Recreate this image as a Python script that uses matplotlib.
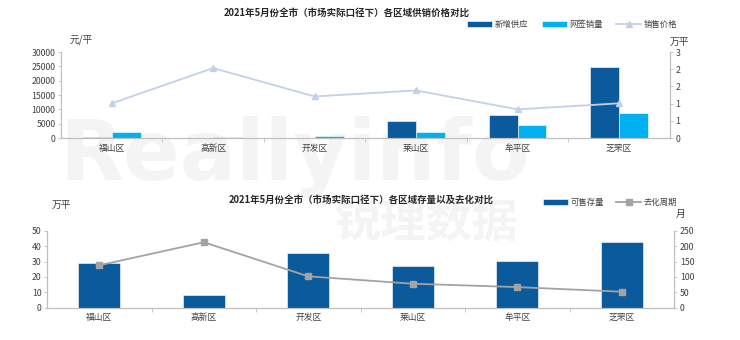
import numpy as np
import matplotlib
matplotlib.use('Agg')
import matplotlib.pyplot as plt
from matplotlib.ticker import FixedLocator, FixedFormatter

plt.rcParams['font.family'] = ['Noto Sans CJK SC', 'DejaVu Sans']

#%% data
districts = ['福山区', '高新区', '开发区', '莱山区', '牟平区', '芝罘区']
new_supply = [0.03, 0.0, 0.0, 0.60, 0.80, 2.47]     # 万平
net_sales = [0.20, 0.04, 0.085, 0.21, 0.45, 0.89]   # 万平
price = [12100, 24400, 14500, 16600, 10000, 12100]  # 元/平
stock = [28.8, 8.2, 35.3, 27.1, 30.5, 42.5]         # 万平
cycle = [138, 213, 102, 78, 67, 52]                 # 月

title1 = '2021年5月份全市（市场实际口径下）各区域供销价格对比'
title2 = '2021年5月份全市（市场实际口径下）各区域存量以及去化对比'

dark = '#0B5A9B'
cyan = '#00B0F0'
pline = '#C3D1E8'
gline = '#A3A3A3'
axc = '#BFBFBF'
txt = '#404040'

fig = plt.figure(figsize=(7.4, 3.4), dpi=100)

# watermark
fig.text(0.08, 0.47, 'Reallyinfo', fontsize=60, fontweight='bold', color='#F4F4F4',
         family='DejaVu Sans', zorder=0)
fig.text(0.452, 0.305, '锐理数据', fontsize=33, fontweight='bold', color='#F4F4F4', zorder=0)

x = np.arange(len(districts))


def style_axes(ax, ax2):
    for a in (ax, ax2):
        a.set_facecolor('none')
        a.spines['top'].set_visible(False)
        for s in ('left', 'right', 'bottom'):
            a.spines[s].set_color(axc)
            a.spines[s].set_linewidth(0.8)
        a.tick_params(colors=txt, labelsize=6.3, length=2.5, width=0.6, color=axc, pad=1.5)
    ax.set_xlim(-0.5, len(districts) - 0.5)
    ax.xaxis.set_major_locator(FixedLocator(x))
    ax.xaxis.set_major_formatter(FixedFormatter(districts))
    ax.xaxis.set_minor_locator(FixedLocator(np.arange(0.5, len(districts) - 1, 1)))
    ax.tick_params(axis='x', which='major', length=0, pad=4, labelsize=6.3)
    ax.tick_params(axis='x', which='minor', length=3, width=0.6, color=axc)


#%% top chart
ax1 = fig.add_axes([0.0824, 0.594, 0.8226, 0.253])
ax1r = ax1.twinx()
ax1r.set_zorder(1)
ax1.set_zorder(2)
w = 0.285
ax1r.bar(x - w / 2, new_supply, w, color=dark, edgecolor='white', linewidth=0.4, label='新增供应')
ax1r.bar(x + w / 2, net_sales, w, color=cyan, edgecolor='white', linewidth=0.4, label='网签销量')
ax1.plot(x, price, color=pline, lw=1.3, marker='^', ms=4, label='销售价格')
ax1.set_ylim(0, 30000)
ax1.set_yticks(np.arange(0, 30001, 5000))
ax1r.set_ylim(0, 3)
ax1r.set_yticks(np.linspace(0, 3, 6))
ax1r.set_yticklabels(['%d' % round(v + 1e-9) for v in np.linspace(0, 3, 6)])
style_axes(ax1, ax1r)
fig.text(0.468, 0.962, title1, ha='center', va='center', fontsize=6.8, fontweight='bold', color='#262626')
fig.text(0.094, 0.882, '元/平', ha='left', va='center', fontsize=7, color=txt)
fig.text(0.918, 0.878, '万平', ha='center', va='center', fontsize=7, color=txt)
h1, l1 = ax1r.get_legend_handles_labels()
h2, l2 = ax1.get_legend_handles_labels()
fig.legend(h1 + h2, l1 + l2, loc='center right', bbox_to_anchor=(0.925, 0.928), ncol=3,
           frameon=False, fontsize=6, handlelength=3.0, handleheight=0.6, columnspacing=1.6,
           handletextpad=0.3, labelcolor=txt)

#%% bottom chart
ax2 = fig.add_axes([0.0635, 0.095, 0.8475, 0.226])
ax2r = ax2.twinx()
ax2.bar(x, stock, 0.4, color=dark, edgecolor='white', linewidth=0.4, label='可售存量')
ax2r.plot(x, cycle, color=gline, lw=1.3, marker='s', ms=4, label='去化周期')
ax2.set_ylim(0, 50)
ax2.set_yticks(np.arange(0, 51, 10))
ax2r.set_ylim(0, 250)
ax2r.set_yticks(np.arange(0, 251, 50))
style_axes(ax2, ax2r)
fig.text(0.488, 0.412, title2, ha='center', va='center', fontsize=6.8, fontweight='bold', color='#262626')
fig.text(0.07, 0.397, '万平', ha='left', va='center', fontsize=7, color=txt)
fig.text(0.92, 0.37, '月', ha='center', va='center', fontsize=7, color=txt)
h1, l1 = ax2.get_legend_handles_labels()
h2, l2 = ax2r.get_legend_handles_labels()
fig.legend(h1 + h2, l1 + l2, loc='center right', bbox_to_anchor=(0.925, 0.405), ncol=2,
           frameon=False, fontsize=6, handlelength=3.0, handleheight=0.6, columnspacing=1.4,
           handletextpad=0.3, labelcolor=txt)

fig.savefig('out.png', dpi=100, facecolor='white')
plt.close()
